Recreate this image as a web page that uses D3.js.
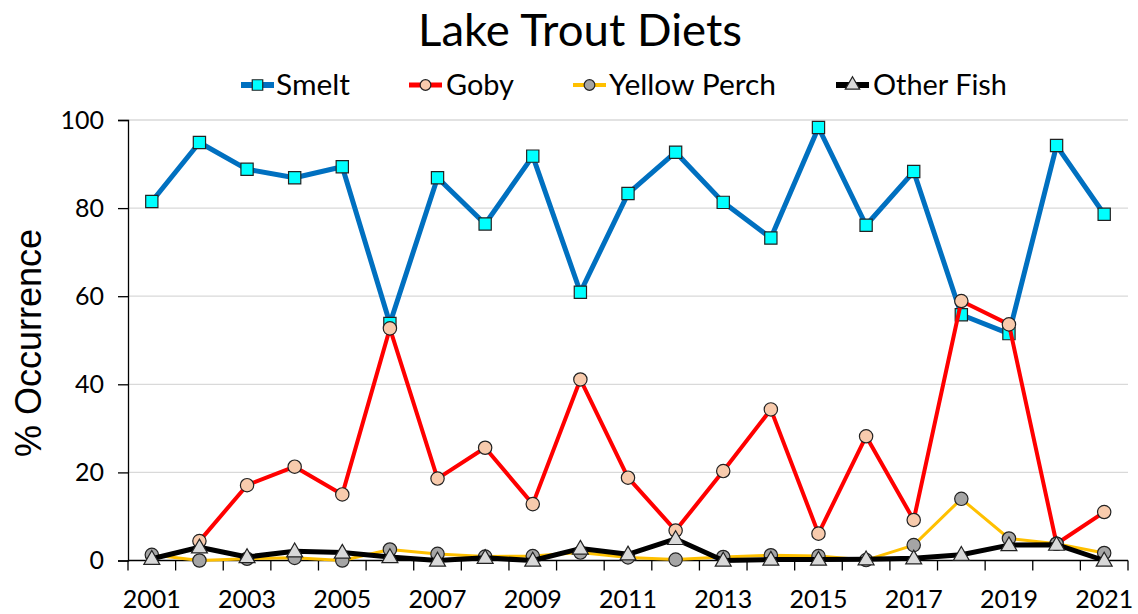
<!DOCTYPE html>
<html>
<head>
<meta charset="utf-8">
<script src="https://cdn.jsdelivr.net/npm/d3@7"></script>
<style>
  html, body { margin: 0; padding: 0; background: #fff; }
  svg { display: block; }
</style>
</head>
<body>
<svg id="chart" width="1138" height="614"></svg>
<script>
const years = [2001,2002,2003,2004,2005,2006,2007,2008,2009,2010,2011,2012,2013,2014,2015,2016,2017,2018,2019,2020,2021];
const smelt = [81.5,94.9,88.8,86.9,89.4,53.8,86.9,76.4,91.8,60.9,83.3,92.7,81.3,73.2,98.3,76.1,88.3,55.8,51.5,94.2,78.6];
const goby = [null,4.4,17.1,21.3,15.0,52.7,18.6,25.6,12.8,41.1,18.8,6.8,20.3,34.3,6.1,28.2,9.2,58.9,53.6,3.8,11.0];
const yellowPerch = [1.3,0.0,0.4,0.6,0.0,2.5,1.5,0.9,1.0,1.8,0.7,0.2,0.8,1.2,1.0,0.1,3.5,14.0,5.0,3.8,1.7];
const otherFish = [0.4,3.0,0.8,2.1,1.8,0.8,0.0,0.6,0.0,2.7,1.4,4.9,0.0,0.2,0.2,0.3,0.5,1.3,3.5,3.6,0.0];
const seriesNames = ["Smelt","Goby","Yellow Perch","Other Fish"];
const yTicks = [0,20,40,60,80,100];
const xLabelYears = [2001,2003,2005,2007,2009,2011,2013,2015,2017,2019,2021];

const svg = d3.select("#chart");

const x = d3.scaleBand().domain(years).range([128, 1128]).paddingInner(0).paddingOuter(0);
const y = d3.scaleLinear().domain([0,100]).range([560.5, 120]);
const cx = d => x(d) + x.bandwidth()/2;

const font = "Lato, 'Open Sans', sans-serif";

// gridlines
svg.append("g").selectAll("line").data(yTicks.filter(t=>t>0)).join("line")
  .attr("x1", 128).attr("x2", 1128)
  .attr("y1", d=>y(d)).attr("y2", d=>y(d))
  .attr("stroke", "#d9d9d9").attr("stroke-width", 1.3);

// y axis
const yAxis = d3.axisLeft(y).tickValues(yTicks).tickSize(10).tickPadding(14);
const gy = svg.append("g").attr("transform","translate(128,0)").call(yAxis);
gy.select(".domain").attr("stroke","#000").attr("stroke-width",1.3);
gy.selectAll(".tick line").attr("stroke","#000").attr("stroke-width",1.3);
gy.selectAll(".tick text").attr("font-family",font).attr("font-size",25).attr("fill","#000");

// x axis with ticks at category boundaries
const xAxisG = svg.append("g").attr("transform",`translate(0,${y(0)})`);
xAxisG.append("line").attr("x1",128).attr("x2",1128).attr("y1",0).attr("y2",0)
  .attr("stroke","#000").attr("stroke-width",1.3);
const boundaries = years.map(d=>x(d)).concat([x(years[years.length-1])+x.bandwidth()]);
xAxisG.selectAll("line.tk").data(boundaries).join("line").attr("class","tk")
  .attr("x1",d=>d).attr("x2",d=>d).attr("y1",0).attr("y2",10)
  .attr("stroke","#000").attr("stroke-width",1.3);
xAxisG.selectAll("text").data(xLabelYears).join("text")
  .attr("x",d=>cx(d)).attr("y",47)
  .attr("text-anchor","middle")
  .attr("font-family",font).attr("font-size",25).attr("fill","#000")
  .text(d=>d);

// title
svg.append("text").attr("x",580).attr("y",46).attr("text-anchor","middle")
  .attr("font-family",font).attr("font-size",45).attr("fill","#000")
  .attr("textLength",324).attr("lengthAdjust","spacingAndGlyphs")
  .text("Lake Trout Diets");

// y label
svg.append("text").attr("transform","translate(41,343) rotate(-90)")
  .attr("text-anchor","middle")
  .attr("font-family","'Liberation Sans', Arial, sans-serif").attr("font-size",36).attr("fill","#000")
  .text("% Occurrence");

const series = [
  {name:seriesNames[0], values:smelt, color:"#0070C0", width:5, marker:"square", fill:"#00FFFF"},
  {name:seriesNames[1], values:goby, color:"#FF0000", width:4, marker:"circle", fill:"#F8CBAD"},
  {name:seriesNames[2], values:yellowPerch, color:"#FFC000", width:3, marker:"circle", fill:"#A5A5A5"},
  {name:seriesNames[3], values:otherFish, color:"#000000", width:5, marker:"triangle", fill:"#D9D9D9"}
];

const symbolFor = m => m==="square" ? d3.symbol().type(d3.symbolSquare).size(150)
  : m==="circle" ? d3.symbol().type(d3.symbolCircle).size(140)
  : d3.symbol().type(d3.symbolTriangle).size(110);

const line = d3.line().defined(d=>d.v!=null).x(d=>cx(d.year)).y(d=>y(d.v));

series.forEach(s=>{
  const pts = years.map((yr,i)=>({year:yr, v:s.values[i]}));
  const g = svg.append("g");
  g.append("path").datum(pts).attr("d",line)
    .attr("fill","none").attr("stroke",s.color).attr("stroke-width",s.width)
    .attr("stroke-linejoin","round");
  g.selectAll("path.m").data(pts.filter(p=>p.v!=null)).join("path").attr("class","m")
    .attr("d",symbolFor(s.marker))
    .attr("transform",p=>`translate(${cx(p.year)},${y(p.v) + (s.marker==="triangle"?1:0)})`)
    .attr("fill",s.fill).attr("stroke","#222").attr("stroke-width",1.2);
});

// legend
const legendItems = [
  {lx:241, tx:276, tl:74},
  {lx:409, tx:446, tl:68},
  {lx:573, tx:609, tl:167},
  {lx:836, tx:873, tl:134}
];
const lg = svg.append("g");
series.forEach((s,i)=>{
  const it = legendItems[i];
  const ly = 85;
  lg.append("line").attr("x1",it.lx).attr("x2",it.lx+33).attr("y1",ly).attr("y2",ly)
    .attr("stroke",s.color).attr("stroke-width",s.width+1);
  lg.append("path").attr("d",symbolFor(s.marker).size(s.marker==="square"?110:90)())
    .attr("transform",`translate(${it.lx+16.5},${ly})`)
    .attr("fill",s.fill).attr("stroke","#222").attr("stroke-width",1.2);
  lg.append("text").attr("x",it.tx).attr("y",ly+10)
    .attr("font-family",font).attr("font-size",29).attr("fill","#000")
    .attr("textLength",it.tl).attr("lengthAdjust","spacingAndGlyphs")
    .text(s.name);
});
</script>
</body>
</html>
